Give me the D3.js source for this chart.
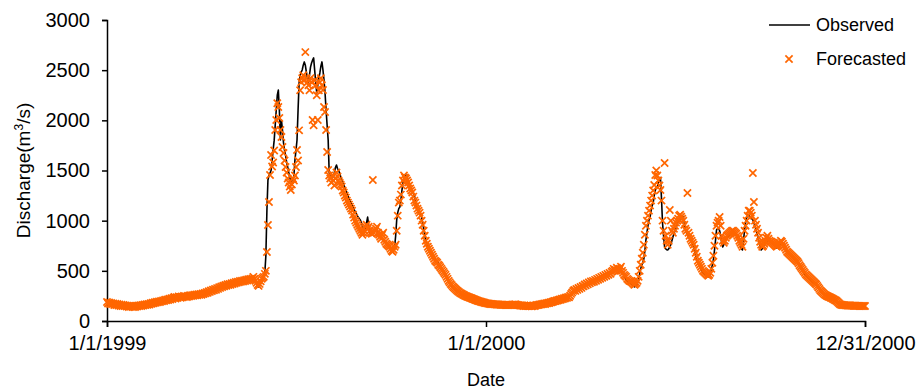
<!DOCTYPE html>
<html>
<head>
<meta charset="utf-8">
<script src="https://cdn.jsdelivr.net/npm/d3@7"></script>
<style>
  body { margin: 0; background: #fff; }
  svg text { font-family: "Liberation Sans", Arial, sans-serif; fill: #000; }
</style>
</head>
<body>
<svg id="chart" width="916" height="390"></svg>
<script>
// daily discharge, 1/1/1999 .. 12/31/2000 (731 days)
const startDate = "1999-01-01";
const xTickDates = ["1999-01-01", "2000-01-01", "2000-12-31"];
const xTickLabels = ["1/1/1999", "1/1/2000", "12/31/2000"];
const yTicks = [0, 500, 1000, 1500, 2000, 2500, 3000];
const seriesNames = ["Observed", "Forecasted"];

const observed = [
185,182,178,176,175,172,170,168,167,165,
163,162,160,158,157,155,154,152,150,149,
148,147,146,145,144,143,144,145,146,148,
149,150,152,153,155,156,158,160,162,163,
165,167,170,172,175,178,180,183,186,188,
190,193,195,198,200,203,205,207,210,212,
215,217,220,222,224,226,228,230,232,233,
235,236,238,240,241,242,243,245,246,248,
249,250,252,253,254,256,257,258,260,262,
263,265,268,270,273,276,280,284,288,292,
296,300,304,308,312,316,320,324,328,332,
336,340,344,348,352,355,358,360,362,365,
368,370,372,375,378,380,383,385,388,390,
392,394,396,398,400,402,405,408,410,412,
414,415,410,395,370,345,340,350,380,400,
420,450,480,650,1100,1405,1450,1475,1500,1600,
1704,1800,1950,2103,2250,2302,2100,1804,2003,1900,
1774,1700,1650,1580,1535,1480,1430,1400,1390,1375,
1450,1605,1700,1804,2100,2372,2450,2480,2502,2550,
2582,2550,2480,2420,2372,2450,2530,2572,2600,2622,
2500,2380,2272,2350,2420,2472,2540,2582,2500,2400,
2272,2100,1950,1804,1475,1460,1450,1440,1435,1480,
1530,1555,1520,1500,1475,1440,1410,1380,1355,1330,
1305,1280,1250,1220,1200,1180,1160,1136,1110,1090,
1070,1050,1035,1020,1007,980,950,907,900,920,
980,1036,950,877,870,880,890,900,905,907,
907,890,860,837,830,820,810,800,790,777,
777,760,740,720,708,700,705,738,850,1007,
1080,1120,1136,1200,1300,1375,1420,1445,1455,1440,
1400,1360,1336,1310,1290,1276,1250,1200,1136,1110,
1090,1070,1050,1036,980,920,860,800,777,750,
730,710,690,670,650,635,620,605,590,578,
560,545,530,515,500,485,470,450,430,405,
379,365,352,340,330,320,310,300,292,285,
278,272,266,260,255,250,245,240,238,235,
230,226,222,218,214,210,206,202,198,195,
192,188,185,182,180,178,176,175,173,172,
171,170,169,168,167,166,165,165,164,163,
163,162,162,161,161,160,160,160,160,160,
161,162,162,163,163,162,161,160,158,157,
156,155,154,153,152,151,150,150,150,151,
152,153,154,156,158,160,162,164,166,168,
170,172,174,176,178,180,182,185,188,190,
193,196,199,202,205,208,211,214,217,220,
223,226,229,232,235,238,250,265,280,295,
300,305,309,315,320,325,330,336,342,348,
354,360,365,370,375,380,385,390,395,390,
395,400,405,410,415,420,425,430,435,440,
445,450,455,460,465,470,478,485,490,495,
500,505,510,512,515,505,490,470,450,430,
410,395,390,385,380,370,360,350,340,345,
355,380,420,470,520,560,578,620,700,807,
880,950,1007,1036,1100,1150,1176,1250,1300,1336,
1336,1380,1400,1430,1226,977,850,738,720,710,
708,720,740,760,800,837,870,900,930,960,
990,1007,1020,1036,1050,1036,980,907,880,860,
840,820,807,790,770,740,700,650,608,580,
560,540,520,500,478,470,465,460,450,440,
445,470,510,560,608,700,800,907,920,927,
900,850,780,738,760,790,820,837,840,845,
855,865,875,877,870,860,850,837,820,800,
760,720,708,800,907,980,1030,1056,1050,1040,
1030,1020,1007,980,950,910,870,837,780,740,
708,720,740,760,790,807,800,795,790,785,
777,770,760,750,740,728,735,745,760,770,
777,760,740,720,700,678,670,660,650,640,
630,620,610,600,590,580,560,540,525,510,
495,480,465,450,440,430,420,410,400,390,
380,379,370,360,345,330,315,300,290,280,
270,262,255,248,244,240,236,230,225,220,
214,208,200,190,180,170,160,158,157,156,
155,155,154,154,153,153,152,152,152,151,
151,151,150,150,150,150,150,150,150,150,
150
];

const forecasted = [
190,175,185,170,180,168,176,160,172,158,
170,155,165,150,162,148,160,150,156,145,
152,140,150,142,148,138,150,140,152,145,
155,148,158,150,160,155,165,158,168,162,
170,165,178,172,182,176,188,182,192,186,
196,190,200,196,206,200,212,206,215,210,
222,215,228,220,232,240,225,236,230,245,
238,232,244,236,250,240,246,238,252,244,
256,248,258,250,262,255,264,256,268,260,
270,262,274,268,280,275,288,282,296,290,
304,298,312,306,320,312,328,320,336,330,
345,338,352,346,360,352,366,358,370,362,
376,368,382,374,388,380,392,386,398,390,
402,394,406,398,412,404,416,408,420,412,
424,440,418,400,380,360,350,370,395,420,
430,440,470,500,688,957,1186,1455,1654,1540,
1580,1700,1904,2003,2170,2133,2023,1904,1834,1734,
1674,1600,1535,1480,1420,1380,1340,1305,1360,1420,
1400,1450,1535,1704,1600,1900,2300,2380,2420,2450,
2400,2680,2420,2380,2350,2300,2420,2380,2003,1950,
2400,2350,2250,2003,2300,2380,2420,2350,2302,2133,
2083,1904,1684,1505,1450,1420,1380,1450,1400,1350,
1420,1480,1440,1400,1380,1360,1340,1300,1280,1250,
1230,1200,1180,1160,1140,1120,1100,1060,1030,1000,
980,960,940,920,900,880,860,880,900,940,
960,920,940,900,880,870,1405,880,900,920,
940,880,860,840,820,860,880,810,790,770,
760,750,740,720,700,690,710,740,760,900,
1050,1180,1200,1260,1350,1400,1450,1430,1420,1400,
1380,1350,1320,1300,1280,1240,1200,1180,1150,1120,
1100,1080,1050,1000,960,900,850,800,770,740,
720,700,680,660,640,620,600,590,580,560,
550,535,520,505,490,475,460,440,420,400,
385,370,358,345,335,325,315,305,296,288,
280,274,268,262,256,250,246,242,238,234,
230,226,222,218,214,210,206,202,198,196,
192,190,186,184,180,178,176,174,172,170,
170,168,168,166,166,165,164,164,163,162,
162,162,161,161,160,160,160,160,160,160,
162,165,160,168,162,160,158,156,155,154,
155,150,155,148,152,150,148,150,152,146,
150,154,150,156,160,158,162,166,164,170,
168,174,170,178,176,182,180,188,186,192,
195,200,198,206,204,210,215,212,222,218,
228,224,234,230,240,236,252,270,285,300,
310,300,320,310,330,320,340,330,350,345,
365,355,375,365,385,375,395,385,400,390,
410,400,420,410,430,420,440,430,450,440,
460,450,470,460,480,470,490,500,520,500,
510,530,520,500,520,540,500,480,460,450,
440,420,410,400,395,390,380,370,360,370,
380,400,440,500,560,620,680,760,860,950,
1000,1050,1100,1150,1200,1250,1300,1355,1455,1500,
1450,1400,1350,1305,1200,1000,900,1575,850,800,
760,800,1107,1000,900,880,920,950,980,1000,
1020,1050,1060,1040,1020,1000,960,920,900,1276,
880,850,820,800,780,760,720,680,640,600,
580,560,540,520,500,490,480,470,460,450,
460,480,520,580,650,750,850,950,980,1000,
1036,950,850,800,780,800,830,850,860,870,
880,890,900,900,890,880,870,850,830,800,
780,760,740,820,900,950,1000,1050,1100,1100,
1080,1050,1475,1186,1000,960,920,880,830,790,
760,740,750,770,800,830,850,820,800,790,
790,780,770,760,750,740,750,760,780,800,
790,770,750,730,710,690,680,670,660,650,
640,630,620,610,600,590,575,555,540,525,
510,495,480,465,455,445,435,425,415,405,
395,385,375,365,350,335,320,305,295,285,
275,265,258,252,246,242,238,232,228,222,
216,210,204,196,186,176,166,162,160,158,
158,156,156,155,155,154,154,153,153,152,
152,152,151,151,151,150,150,150,150,150,
150
];

const parse = d3.timeParse("%Y-%m-%d");
const t0 = parse(startDate);
const dayDate = i => d3.timeDay.offset(t0, i);

const margin = { left: 107, right: 51, top: 20, bottom: 69 };
const width = 916, height = 390;

const svg = d3.select("#chart");

const x = d3.scaleTime()
  .domain([parse(xTickDates[0]), parse(xTickDates[2])])
  .range([margin.left, width - margin.right]);

const y = d3.scaleLinear()
  .domain([0, 3000])
  .range([height - margin.bottom, margin.top]);

// y axis
svg.append("g")
  .attr("transform", "translate(" + margin.left + ",0)")
  .call(d3.axisLeft(y).tickValues(yTicks).tickSize(5).tickPadding(12).tickFormat(d3.format("d")))
  .call(g => g.select(".domain").attr("stroke", "#000").attr("stroke-width", 1.5))
  .call(g => g.selectAll(".tick line").attr("stroke", "#000").attr("stroke-width", 1.5))
  .call(g => g.selectAll("text").attr("font-size", 20).attr("font-family", "Liberation Sans, Arial, sans-serif"));

// x axis
svg.append("g")
  .attr("transform", "translate(0," + (height - margin.bottom) + ")")
  .call(d3.axisBottom(x)
    .tickValues(xTickDates.map(parse))
    .tickSize(6).tickPadding(9)
    .tickFormat((d, i) => xTickLabels[i]))
  .call(g => g.select(".domain").attr("stroke", "#000").attr("stroke-width", 1.5))
  .call(g => g.selectAll(".tick line").attr("stroke", "#000").attr("stroke-width", 1.5))
  .call(g => g.selectAll("text").attr("font-size", 20).attr("font-family", "Liberation Sans, Arial, sans-serif"));

// axis titles
svg.append("text")
  .attr("x", (margin.left + width - margin.right) / 2)
  .attr("y", 386)
  .attr("text-anchor", "middle")
  .attr("font-size", 18)
  .text("Date");

const yTitle = svg.append("text")
  .attr("transform", "translate(30," + ((margin.top + height - margin.bottom) / 2) + ") rotate(-90)")
  .attr("text-anchor", "middle")
  .attr("font-size", 19);
yTitle.append("tspan").text("Discharge(m");
yTitle.append("tspan").attr("font-size", 12).attr("dy", -7).text("3");
yTitle.append("tspan").attr("dy", 7).text("/s)");

// observed line
const line = d3.line()
  .x((d, i) => x(dayDate(i)))
  .y(d => y(d));

svg.append("path")
  .datum(observed)
  .attr("fill", "none")
  .attr("stroke", "#000")
  .attr("stroke-width", 1.6)
  .attr("stroke-linejoin", "round")
  .attr("d", line);

// forecast markers (x shape)
const s = 3.6;
const cross = "M" + (-s) + "," + (-s) + "L" + s + "," + s + "M" + (-s) + "," + s + "L" + s + "," + (-s);

svg.append("g")
  .selectAll("path")
  .data(forecasted)
  .enter()
  .append("path")
  .attr("d", cross)
  .attr("transform", (d, i) => "translate(" + x(dayDate(i)) + "," + y(d) + ")")
  .attr("fill", "none")
  .attr("stroke", "#FF6600")
  .attr("stroke-width", 1.7);

// legend
const legend = svg.append("g");
legend.append("line")
  .attr("x1", 769).attr("x2", 810).attr("y1", 25).attr("y2", 25)
  .attr("stroke", "#000").attr("stroke-width", 1.6);
legend.append("text")
  .attr("x", 816).attr("y", 31)
  .attr("font-size", 18)
  .text(seriesNames[0]);
legend.append("path")
  .attr("d", cross)
  .attr("transform", "translate(789,59)")
  .attr("fill", "none")
  .attr("stroke", "#FF6600")
  .attr("stroke-width", 1.7);
legend.append("text")
  .attr("x", 816).attr("y", 65)
  .attr("font-size", 18)
  .text(seriesNames[1]);
</script>
</body>
</html>
